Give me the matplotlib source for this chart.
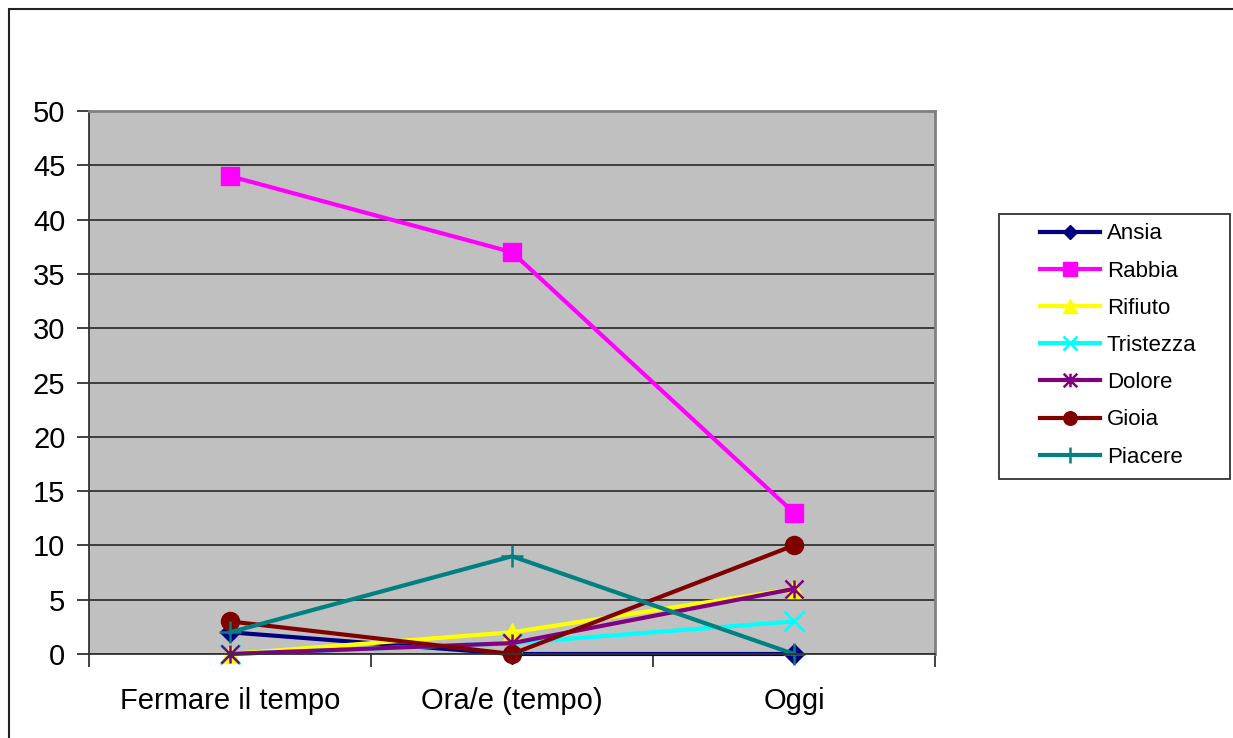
import matplotlib
matplotlib.use('Agg')
import matplotlib.pyplot as plt
from matplotlib.patches import Rectangle
from matplotlib.path import Path
import numpy as np

plt.rcParams['font.family'] = ['Liberation Sans', 'DejaVu Sans']

categories = ['Fermare il tempo', 'Ora/e (tempo)', 'Oggi']
series = ['Ansia', 'Rabbia', 'Rifiuto', 'Tristezza', 'Dolore', 'Gioia', 'Piacere']
ansia = [2, 0, 0]
rabbia = [44, 37, 13]
rifiuto = [0, 2, 6]
tristezza = [0, 1, 3]
dolore = [0, 1, 6]
gioia = [3, 0, 10]
piacere = [2, 9, 0]
values = [ansia, rabbia, rifiuto, tristezza, dolore, gioia, piacere]
yticks = np.arange(0, 51, 5)

# asterisk: an x with a vertical stroke through it
asterisk = Path([(-1, -1), (1, 1), (-1, 1), (1, -1), (0, -1), (0, 1)],
                [Path.MOVETO, Path.LINETO] * 3)

colors = ['#000080', '#FF00FF', '#FFFF00', '#00FFFF', '#800080', '#800000', '#008080']
markers = ['D', 's', '^', 'x', asterisk, 'o', '+']
msizes = [10, 13, 13, 14, 13, 13, 16]
hollow = [False, False, False, True, True, False, True]

W, H = 1233, 738
fig = plt.figure(figsize=(W / 100, H / 100), dpi=100)
# outer chart frame
fig.patches.append(Rectangle((9 / W, -0.1), 1.2, (H - 9) / H + 0.1,
                             transform=fig.transFigure, fill=False,
                             edgecolor='#222222', linewidth=1.5))

ax = fig.add_axes([89 / W, 84 / H, 846 / W, 543 / H])
ax.set_facecolor('#C0C0C0')

x = np.arange(len(categories))
for vals, name, c, m, ms, ho in zip(values, series, colors, markers, msizes, hollow):
    if ho:
        ax.plot(x, vals, color=c, linewidth=3, marker=m, markersize=ms,
                markeredgewidth=1.8, label=name, clip_on=False)
    else:
        ax.plot(x, vals, color=c, linewidth=3, marker=m, markersize=ms,
                markeredgecolor=c, label=name, clip_on=False)

ax.set_xlim(-0.5, len(categories) - 0.5)
ax.set_ylim(0, 50)
ax.set_yticks(yticks)
ax.yaxis.grid(True, color='#333333', linewidth=1.3)
ax.set_axisbelow(True)

ax.set_xticks(x)
ax.set_xticklabels(categories, fontsize=21)
ax.tick_params(axis='x', length=0, pad=24)
ax.set_xticks(np.arange(-0.5, len(categories)), minor=True)
ax.tick_params(axis='x', which='minor', length=9, width=1.3, color='#333333')
ax.tick_params(axis='y', labelsize=21, length=9, width=1.3, color='#333333', pad=8)

for side in ('top', 'right'):
    ax.spines[side].set_color('#808080')
    ax.spines[side].set_linewidth(2)
for side in ('left', 'bottom'):
    ax.spines[side].set_color('#333333')
    ax.spines[side].set_linewidth(1.3)

# legend frame drawn separately, entries placed inside it
fig.patches.append(Rectangle((999 / W, 1 - 479 / H), 231 / W, 265 / H,
                             transform=fig.transFigure, facecolor='white',
                             edgecolor='#333333', linewidth=1.3))
leg = fig.legend(loc='center left', bbox_to_anchor=(1040 / W, 1 - 345.5 / H),
                 fontsize=16, frameon=False, borderpad=0, borderaxespad=0,
                 handlelength=2.7, labelspacing=0.73, handletextpad=0.3,
                 markerscale=0.75)

fig.savefig('out.png', dpi=100)
